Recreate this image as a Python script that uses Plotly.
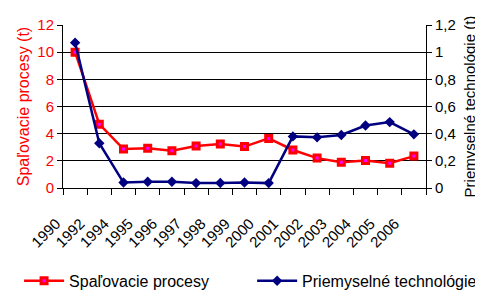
import plotly.graph_objects as go

years = ["1990", "1992", "1994", "1995", "1996", "1997", "1998", "1999",
         "2000", "2001", "2002", "2003", "2004", "2005", "2006"]
spalovacie = [10.0, 4.7, 2.87, 2.92, 2.75, 3.09, 3.24, 3.05, 3.65, 2.8, 2.2, 1.9, 2.03, 1.82, 2.35]
priemyselne = [1.07, 0.33, 0.04, 0.046, 0.046, 0.036, 0.037, 0.04, 0.036, 0.38, 0.373, 0.39, 0.46, 0.485, 0.395]

left_ticks = [0, 2, 4, 6, 8, 10, 12]
right_ticks = [0, 0.2, 0.4, 0.6, 0.8, 1.0, 1.2]
right_labels = ["0", "0,2", "0,4", "0,6", "0,8", "1", "1,2"]

FONT = "Liberation Sans, Arial, sans-serif"

fig = go.Figure()
fig.add_trace(go.Scatter(
    x=years, y=spalovacie, name="Spaľovacie procesy", mode="lines+markers",
    line=dict(color="#FF0000", width=2.5),
    marker=dict(symbol="square", size=6, color="#FF00FF", line=dict(color="#FF0000", width=3)),
    yaxis="y", legend="legend"))
fig.add_trace(go.Scatter(
    x=years, y=priemyselne, name="Priemyselné technológie", mode="lines+markers",
    line=dict(color="#000080", width=2.5),
    marker=dict(symbol="diamond", size=8, color="#000080"),
    yaxis="y2", legend="legend2"))

leg_common = dict(orientation="h", yanchor="middle", xanchor="left",
                  font=dict(size=16), itemwidth=40, bgcolor="rgba(0,0,0,0)")

# page body has an 8px default margin, so the figure is 8px smaller and offset
fig.update_layout(
    width=475, height=282,
    margin=dict(l=55, r=57, t=17, b=102, autoexpand=False),
    paper_bgcolor="white", plot_bgcolor="white",
    font=dict(family=FONT, size=14, color="black"),
    showlegend=True,
    legend=dict(x=-0.121, y=-0.57, **leg_common),
    legend2=dict(x=0.521, y=-0.57, **leg_common),
    xaxis=dict(type="category", categoryorder="array", categoryarray=years,
               range=[-0.5, len(years) - 0.5],
               tickangle=-45, tickfont=dict(size=15), automargin=False,
               ticklabelstandoff=20, ticklabelshift=-19,
               showline=True, linecolor="black", linewidth=1,
               ticks="outside", ticklen=6, tickcolor="black", tickson="boundaries",
               showgrid=False, zeroline=False),
    yaxis=dict(range=[0, 12], tickvals=left_ticks, ticktext=[str(v) for v in left_ticks],
               tickfont=dict(color="#FF0000", size=15), automargin=False,
               title=dict(text="Spaľovacie procesy (t)", font=dict(color="#FF0000", size=16), standoff=3),
               showline=True, linecolor="black", linewidth=1,
               ticks="outside", ticklen=5, tickcolor="black",
               showgrid=True, gridcolor="black", gridwidth=1, zeroline=False),
    yaxis2=dict(range=[0, 1.2], overlaying="y", side="right",
                tickvals=right_ticks, ticktext=right_labels, automargin=False,
                tickfont=dict(color="black", size=15),
                title=dict(text="Priemyselné technológie (t)", font=dict(color="black", size=15), standoff=9),
                showline=True, linecolor="black", linewidth=1,
                ticks="outside", ticklen=5, tickcolor="black",
                showgrid=False, zeroline=False),
)

fig.write_html("out.html")
